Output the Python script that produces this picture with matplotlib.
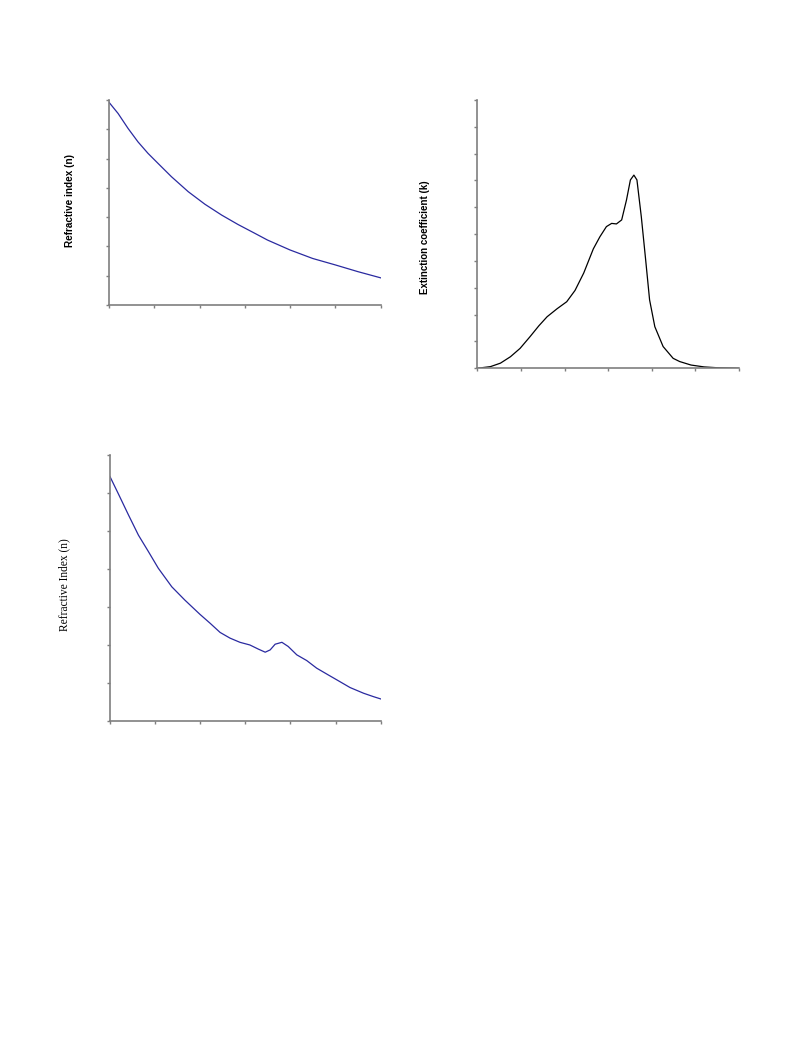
import matplotlib
matplotlib.use("Agg")
import matplotlib.pyplot as plt

# Panel 1: refractive index (n)
n1_x = [0, 0.20, 0.42, 0.64, 0.86, 1.08, 1.38, 1.75, 2.12, 2.49, 2.85, 3.22, 3.5, 4.0, 4.5, 5.0, 5.5, 6.0]
n1_y = [6.92, 6.54, 6.03, 5.57, 5.18, 4.84, 4.38, 3.87, 3.44, 3.07, 2.75, 2.45, 2.22, 1.88, 1.59, 1.37, 1.14, 0.93]

# Panel 2: extinction coefficient (k)
k_x = [0, 0.30, 0.53, 0.76, 0.98, 1.21, 1.41, 1.60, 1.83, 2.05, 2.24, 2.44, 2.66, 2.81,
       2.96, 3.08, 3.19, 3.31, 3.42, 3.51, 3.59, 3.66, 3.76, 3.86, 3.95, 4.07, 4.26, 4.49,
       4.64, 4.9, 5.2, 5.5, 6.0]
k_y = [0, 0.06, 0.19, 0.43, 0.74, 1.18, 1.58, 1.92, 2.22, 2.48, 2.90, 3.55, 4.45, 4.90,
       5.28, 5.40, 5.38, 5.53, 6.27, 7.02, 7.20, 7.02, 5.65, 4.04, 2.55, 1.55, 0.81, 0.37,
       0.25, 0.12, 0.05, 0.02, 0]

# Panel 3: refractive index (n), measured
n3_x = [0, 0.18, 0.41, 0.63, 0.85, 1.07, 1.37, 1.66, 1.99, 2.22, 2.44, 2.66, 2.88, 3.10,
        3.29, 3.44, 3.55, 3.66, 3.81, 3.95, 4.14, 4.36, 4.58, 4.84, 5.03, 5.32, 5.62, 5.84, 6.0]
n3_y = [6.43, 5.99, 5.42, 4.89, 4.46, 4.02, 3.53, 3.18, 2.81, 2.57, 2.33, 2.18, 2.07, 2.00,
        1.89, 1.81, 1.87, 2.02, 2.07, 1.96, 1.74, 1.59, 1.39, 1.21, 1.08, 0.88, 0.73, 0.64, 0.58]

x_ticks = [0, 1, 2, 3, 4, 5, 6]

fig = plt.figure(figsize=(7.93, 10.57), dpi=100)

def style(ax, ymax):
    ax.set_xlim(0, 6)
    ax.set_ylim(0, ymax)
    ax.set_xticks(x_ticks)
    ax.set_yticks(range(0, ymax + 1))
    ax.set_xticklabels([])
    ax.set_yticklabels([])
    for s in ["top", "right"]:
        ax.spines[s].set_visible(False)
    for s in ["left", "bottom"]:
        ax.spines[s].set_color("#7f7f7f")
        ax.spines[s].set_linewidth(1.2)
    ax.tick_params(direction="out", length=2.5, width=1.0, color="#7f7f7f")
    ax.patch.set_visible(False)

ax1 = fig.add_axes([0.1375, 0.7114, 0.3424, 0.194])
ax1.plot(n1_x, n1_y, color="#2a2aa0", lw=0.9, solid_joinstyle="round")
style(ax1, 7)
ax1.set_ylabel("Refractive index (n)", fontsize=7.2, fontweight="bold",
               family="Liberation Sans")
ax1.yaxis.set_label_coords(-0.127, 0.512)

ax2 = fig.add_axes([0.6019, 0.6516, 0.330, 0.2538])
ax2.plot(k_x, k_y, color="black", lw=0.9, solid_joinstyle="round")
style(ax2, 10)
ax2.set_ylabel("Extinction coefficient (k)", fontsize=7, fontweight="bold",
               family="Liberation Sans")
ax2.yaxis.set_label_coords(-0.182, 0.489)

ax3 = fig.add_axes([0.1387, 0.3179, 0.3414, 0.2517])
ax3.plot(n3_x, n3_y, color="#2a2aa0", lw=0.9, solid_joinstyle="round")
style(ax3, 7)
ax3.set_ylabel("Refractive Index (n)", fontsize=8.3, family="Liberation Serif")
ax3.yaxis.set_label_coords(-0.145, 0.511)

fig.savefig("out.png", dpi=100)
